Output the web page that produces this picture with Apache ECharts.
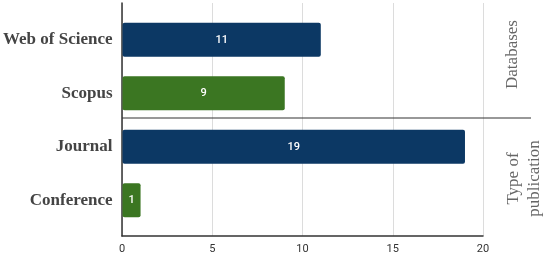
<!DOCTYPE html>
<html>
<head>
<meta charset="utf-8">
<script src="https://cdn.jsdelivr.net/npm/echarts@6/dist/echarts.min.js"></script>
<style>
  html, body { margin: 0; padding: 0; background: #fff; }
  #main { width: 550px; height: 257px; }
</style>
</head>
<body>
<div id="main"></div>
<script>
// data
var categories = ['Web of Science', 'Scopus', 'Journal', 'Conference'];
var counts = [11, 9, 19, 1];
var groups = ['Databases', 'Type of\npublication'];
var xTicks = [0, 5, 10, 15, 20];

var barColors = ['#0c3864', '#3b7622', '#0c3864', '#3b7622'];

var myChart = echarts.init(document.getElementById('main'));

var option = {
  backgroundColor: '#fff',
  animation: false,
  grid: [
    // frame grid: axis lines, split lines, tick labels
    { left: 122, right: 67, top: 3, bottom: 21 },
    // bars grid
    { left: 122, right: 67, top: 13, bottom: 30 }
  ],
  xAxis: [
    {
      gridIndex: 0,
      type: 'value',
      min: xTicks[0],
      max: xTicks[xTicks.length - 1],
      interval: 5,
      axisLine: { show: true, lineStyle: { color: '#333', width: 1.5 } },
      axisTick: { show: false },
      axisLabel: { color: '#333', fontFamily: 'Roboto', fontSize: 11, margin: 8 },
      splitLine: { show: true, lineStyle: { color: '#dcdcdc', width: 1 } }
    },
    {
      gridIndex: 1,
      type: 'value',
      min: 0,
      max: 20,
      show: false
    }
  ],
  yAxis: [
    {
      gridIndex: 0,
      type: 'value',
      min: 0,
      max: 1,
      axisLine: { show: true, lineStyle: { color: '#333', width: 1.5 } },
      axisTick: { show: false },
      axisLabel: { show: false },
      splitLine: { show: false }
    },
    {
      gridIndex: 1,
      type: 'category',
      inverse: true,
      data: categories,
      axisLine: { show: false },
      axisTick: { show: false },
      splitLine: { show: false },
      axisLabel: {
        color: '#444',
        fontFamily: 'Liberation Serif',
        fontWeight: 'bold',
        fontSize: 17,
        margin: 10
      }
    }
  ],
  series: [
    {
      type: 'bar',
      xAxisIndex: 1,
      yAxisIndex: 1,
      data: counts,
      barWidth: 34,
      itemStyle: {
        borderRadius: 2,
        color: function (p) { return barColors[p.dataIndex]; }
      },
      label: {
        show: true,
        position: 'inside',
        color: '#fff',
        fontFamily: 'Roboto',
        fontWeight: 500,
        fontSize: 11
      }
    }
  ]
};

myChart.setOption(option);

// separator line and group labels, placed from the category scale
var yA = myChart.convertToPixel({ yAxisIndex: 1 }, 1);
var yB = myChart.convertToPixel({ yAxisIndex: 1 }, 2);
var ySep = (yA + yB) / 2 - 2;
var yTop = myChart.convertToPixel({ yAxisIndex: 1 }, 0);
var yBot = myChart.convertToPixel({ yAxisIndex: 1 }, 3);
var x0 = myChart.convertToPixel({ xAxisIndex: 0 }, 0);

myChart.setOption({
  graphic: [
    {
      type: 'line',
      shape: { x1: x0, y1: ySep, x2: 531, y2: ySep },
      style: { stroke: '#333', lineWidth: 1.2 }
    },
    {
      type: 'text',
      x: 513,
      y: (yTop + yA) / 2 - 12,
      rotation: Math.PI / 2,
      style: {
        text: groups[0],
        fill: '#666',
        font: '17px "Liberation Serif"',
        align: 'center',
        verticalAlign: 'middle'
      }
    },
    {
      type: 'text',
      x: 524,
      y: (yB + yBot) / 2 + 5,
      rotation: Math.PI / 2,
      style: {
        text: groups[1],
        fill: '#666',
        font: '17px "Liberation Serif"',
        lineHeight: 21,
        align: 'center',
        verticalAlign: 'middle'
      }
    }
  ]
});
</script>
</body>
</html>
